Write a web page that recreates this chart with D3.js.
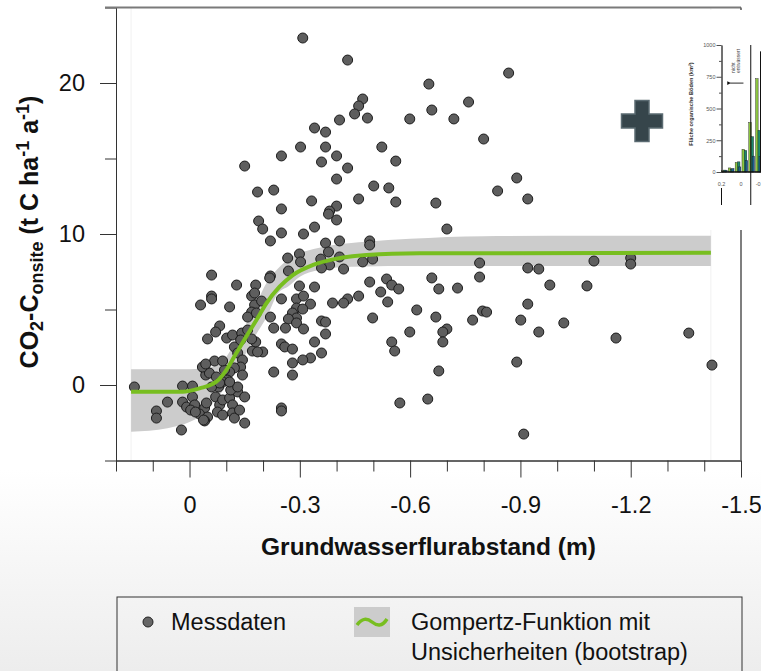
<!DOCTYPE html>
<html>
<head>
<meta charset="utf-8">
<script src="https://cdn.jsdelivr.net/npm/d3@7"></script>
<style>
  body { margin: 0; background: #fff; }
  svg { display: block; font-family: "Liberation Sans", Arial, sans-serif; }
</style>
</head>
<body>
<div id="chart"></div>
<script>
// measured points: groundwater level (m) and CO2-C onsite (t C / ha / a)
let gwLevel = [
  -0.308, -0.430, -0.471, -0.460, -0.449, -0.484, -0.408, -0.340, -0.370, -0.302,
  -0.370, -0.523, -0.250, -0.400, -0.150, -0.359, -0.430, -0.400, -0.501, -0.185,
  -0.229, -0.332, -0.460, -0.250, -0.400, -0.381, -0.378, -0.400, -0.188, -0.199,
  -0.868, -0.651, -0.759, -0.659, -0.599, -0.719, -0.800, -0.561, -0.890, -0.542,
  -0.838, -0.561, -0.670, -0.920, -0.700, -0.250, -0.310, -0.340, -0.220, -0.370,
  -0.408, -0.490, -0.490, -0.299, -0.267, -0.378, -0.408, -0.302, -0.357, -0.381,
  -0.359, -0.419, -0.471, -0.498, -0.269, -0.220, -0.218, -0.060, -0.128, -0.180,
  -0.299, -0.340, -0.490, -0.536, -0.550, -0.569, -0.520, -0.060, -0.060, -0.169,
  -0.177, -0.250, -0.291, -0.310, -0.430, -0.460, -0.789, -0.789, -0.659, -0.678,
  -0.729, -0.920, -0.950, -1.100, -1.200, -1.200, -0.980, -1.081, -0.329, -0.389,
  -0.419, -0.539, -0.618, -0.030, -0.109, -0.177, -0.169, -0.158, -0.182, -0.196,
  -0.291, -0.280, -0.291, -0.308, -0.269, -0.220, -0.291, -0.261, -0.229, -0.310,
  -0.359, -0.370, -0.370, -0.498, -0.599, -0.550, -0.558, -0.340, -0.250, -0.259,
  -0.280, -0.359, -0.329, -0.308, -0.280, -0.280, -0.229, -0.250, -0.250, -0.572,
  -0.199, -0.171, -0.180, -0.082, -0.071, -0.049, -0.101, -0.117, -0.142, -0.158,
  -0.169, -0.122, -0.139, -0.185, -0.131, -0.144, -0.139, -0.144, -0.122, -0.109,
  -0.095, -0.068, -0.090, -0.041, -0.044, -0.054, -0.073, -0.103, -0.090, -0.079,
  0.019, -0.008, 0.150, 0.060, 0.019, 0.008, -0.008, -0.014, -0.041, -0.046,
  -0.071, -0.082, -0.090, -0.109, -0.117, -0.131, -0.150, 0.090, 0.090, -0.003,
  -0.027, -0.049, -0.041, -0.076, -0.090, -0.117, -0.122, -0.136, -0.150, 0.022,
  -0.035, -0.044, -0.060, -0.082, -0.112, -0.131, -0.109, -0.016, -0.038, -0.670,
  -0.797, -0.808, -0.770, -0.901, -1.018, -0.700, -0.689, -0.689, -0.950, -1.160,
  -1.358, -0.890, -0.678, -1.421, -0.648, -0.909, -0.920
];
let co2Flux = [
  22.98, 21.52, 18.94, 18.48, 17.95, 17.68, 17.55, 17.02, 16.75, 15.76,
  15.76, 15.76, 15.17, 15.17, 14.50, 14.77, 14.37, 13.64, 13.18, 12.78,
  12.91, 12.19, 12.32, 11.66, 11.85, 11.52, 11.32, 10.93, 10.86, 10.33,
  20.66, 19.93, 18.74, 18.21, 17.62, 17.62, 16.29, 14.83, 13.71, 13.05,
  12.85, 12.12, 12.05, 12.32, 10.33, 10.07, 10.00, 10.46, 9.54, 9.40,
  9.54, 9.54, 9.27, 8.68, 8.41, 8.81, 8.48, 8.15, 8.34, 7.95,
  7.75, 7.68, 8.15, 8.34, 7.55, 7.22, 7.09, 7.28, 6.62, 6.62,
  6.56, 6.49, 6.82, 7.02, 6.62, 6.36, 6.16, 5.89, 5.70, 5.89,
  6.09, 5.70, 5.70, 5.89, 5.70, 5.89, 8.08, 7.15, 7.09, 6.36,
  6.42, 7.75, 7.68, 8.21, 8.41, 8.01, 6.62, 6.56, 5.36, 5.43,
  5.43, 5.50, 4.97, 5.30, 5.17, 5.30, 4.83, 4.50, 4.77, 5.56,
  5.10, 4.77, 4.44, 5.03, 4.37, 4.50, 4.11, 3.77, 3.77, 3.71,
  4.24, 4.17, 3.38, 4.44, 3.51, 2.85, 2.25, 2.85, 2.72, 2.52,
  2.38, 2.12, 1.79, 1.66, 1.46, 0.66, 0.86, -1.52, -1.72, -1.19,
  2.19, 2.25, 2.85, 3.91, 3.51, 3.05, 3.11, 3.31, 3.44, 3.64,
  3.05, 2.52, 2.98, 2.19, 2.12, 1.66, 1.19, 0.66, 1.13, 0.86,
  0.99, 1.59, 1.59, 1.06, 0.66, 0.79, 0.53, 0.33, 0.20, -0.13,
  -0.07, -0.07, -0.13, -1.13, -1.13, -1.46, -0.79, -1.32, -1.52, -1.19,
  -0.79, -1.32, -0.99, -0.86, -1.32, -0.46, -0.79, -1.72, -2.19, -1.66,
  -1.92, -2.12, -2.38, -1.79, -1.99, -1.85, -2.19, -1.66, -2.52, -2.98,
  1.19, 1.39, -0.13, 0.13, -0.33, -0.13, 0.20, -1.79, -2.32, 4.50,
  4.90, 4.83, 4.30, 4.30, 4.11, 3.71, 3.51, 2.85, 3.51, 3.11,
  3.44, 1.52, 0.93, 1.32, -0.93, -3.25, 5.36
];

// Gompertz fit
let fitX = [0.159, 0.019, -0.027, -0.073, -0.100, -0.127, -0.154, -0.182, -0.209, -0.245, -0.281, -0.336, -0.390, -0.481, -0.626, -1.418];
let fitY = [-0.44, -0.44, -0.22, 0.22, 0.99, 2.10, 3.20, 4.30, 5.41, 6.51, 7.28, 7.95, 8.32, 8.61, 8.72, 8.76];

// bootstrap uncertainty band
let bandX = [0.159, 0.06, 0.0, -0.03, -0.06, -0.09, -0.12, -0.15, -0.18, -0.21, -0.24, -0.27, -0.30, -0.35, -0.40, -0.48, -0.60, -0.80, -1.10, -1.418];
let bandHigh = [1.04, 1.04, 1.05, 1.1, 1.2, 1.55, 2.65, 3.88, 5.3, 6.78, 7.7, 8.35, 8.72, 9.07, 9.3, 9.49, 9.68, 9.85, 9.88, 9.88];
let bandLow = [-3.09, -2.86, -2.45, -2.05, -1.3, -0.4, 0.7, 1.95, 3.3, 4.5, 6.05, 6.55, 7.17, 7.6, 7.78, 7.85, 7.88, 7.88, 7.88, 7.88];

let xMajorTicks = [0, -0.3, -0.6, -0.9, -1.2, -1.5];
let xMinorTicks = [0.2, 0.1, -0.1, -0.2, -0.4, -0.5, -0.7, -0.8, -1.0, -1.1, -1.3, -1.4];
let yMajorTicks = [0, 10, 20];
let yMinorTicks = [-5, 5, 15, 25];

// inset histogram (area of organic soils per groundwater class)
let insetBins = [0.2, 0.13, 0.06, -0.01, -0.08, -0.15];
let insetGreen = [10, 32, 75, 178, 390, 735];
let insetTeal = [15, 22, 80, 170, 278, 328];
let insetBlue = [12, 28, 40, 90, 125, 120];
let insetYTicks = [0, 250, 500, 750, 1000];
let insetYMinor = [125, 375, 625, 875];
let insetXTicks = [0.2, 0, -0.2];

let svgWidth = 761;
let svgHeight = 671;
let fontSize = 23.5;

let svg = d3.select("#chart")
  .append("svg")
  .attr("width", svgWidth)
  .attr("height", svgHeight);

// soft grey fade at the bottom
let grad = svg.append("defs").append("linearGradient")
  .attr("id", "bg").attr("x1", 0).attr("y1", 0).attr("x2", 0).attr("y2", 1);
grad.append("stop").attr("offset", 0.7).attr("stop-color", "#ffffff");
grad.append("stop").attr("offset", 1).attr("stop-color", "#ededed");
svg.append("rect").attr("width", svgWidth).attr("height", svgHeight).attr("fill", "url(#bg)");

let x = d3.scaleLinear().domain([0.2, -1.5]).range([116, 741]);
let y = d3.scaleLinear().domain([-5, 25]).range([460.5, 7.5]);

// faint guides at the ends of the fit
svg.selectAll(".guide")
  .data([bandX[0], bandX[bandX.length - 1]])
  .enter().append("line")
  .attr("x1", d => x(d)).attr("x2", d => x(d))
  .attr("y1", y(25)).attr("y2", y(-5))
  .attr("stroke", "#f1f1f1");

// uncertainty band
let band = d3.area()
  .x((d, i) => x(bandX[i]))
  .y0((d, i) => y(bandLow[i]))
  .y1((d, i) => y(bandHigh[i]))
  .curve(d3.curveMonotoneX);
svg.append("path")
  .datum(bandX)
  .attr("d", band)
  .attr("fill", "#cccccc");

// points
let points = gwLevel.map((g, i) => ({ gw: g, co2: co2Flux[i] }));
svg.selectAll(".dot")
  .data(points)
  .enter()
  .append("circle")
  .attr("class", "dot")
  .attr("cx", d => x(d.gw))
  .attr("cy", d => y(d.co2))
  .attr("r", 5)
  .attr("fill", "#5e5e5e")
  .attr("stroke", "#1c1c1c")
  .attr("stroke-width", 1);

// gompertz curve
let fitLine = d3.line()
  .x((d, i) => x(fitX[i]))
  .y((d, i) => y(fitY[i]))
  .curve(d3.curveMonotoneX);
svg.append("path")
  .datum(fitX)
  .attr("d", fitLine)
  .attr("fill", "none")
  .attr("stroke", "#78be20")
  .attr("stroke-width", 4);

// axes
let yMinor = svg.append("g")
  .attr("transform", `translate(${x(0.2)},0)`)
  .call(d3.axisLeft(y).tickValues(yMinorTicks).tickSize(11).tickSizeOuter(0).tickFormat(""));
let yMajor = svg.append("g")
  .attr("transform", `translate(${x(0.2)},0)`)
  .call(d3.axisLeft(y).tickValues(yMajorTicks).tickSize(16).tickSizeOuter(0).tickPadding(15));
let xMinor = svg.append("g")
  .attr("transform", `translate(0,${y(-5)})`)
  .call(d3.axisBottom(x).tickValues(xMinorTicks).tickSize(11).tickSizeOuter(0).tickFormat(""));
let xMajor = svg.append("g")
  .attr("transform", `translate(0,${y(-5)})`)
  .call(d3.axisBottom(x).tickValues(xMajorTicks).tickSize(17).tickSizeOuter(0).tickPadding(19)
    .tickFormat(d => String(d)));

[yMinor, yMajor, xMinor, xMajor].forEach(g => {
  g.selectAll("line").attr("stroke", "#333");
  g.select(".domain").attr("stroke", "#333");
  g.selectAll("text")
    .attr("font-size", fontSize)
    .attr("fill", "#111")
    .attr("font-family", "Liberation Sans, Arial, sans-serif");
});

// frame top and right
svg.append("line")
  .attr("x1", x(0.2) - 11).attr("x2", x(-1.5))
  .attr("y1", y(25)).attr("y2", y(25))
  .attr("stroke", "#7a7a7a").attr("stroke-width", 2);
svg.append("line")
  .attr("x1", x(-1.5)).attr("x2", x(-1.5))
  .attr("y1", y(25)).attr("y2", y(-5))
  .attr("stroke", "#555").attr("stroke-width", 1.5);

// axis titles
svg.append("text")
  .attr("x", (x(0.2) + x(-1.5)) / 2)
  .attr("y", 555)
  .attr("text-anchor", "middle")
  .attr("font-size", 24.5)
  .attr("font-weight", "bold")
  .attr("fill", "#111")
  .text("Grundwasserflurabstand (m)");

let yTitle = svg.append("text")
  .attr("transform", "translate(38,232) rotate(-90)")
  .attr("text-anchor", "middle")
  .attr("font-size", 25)
  .attr("font-weight", "bold")
  .attr("fill", "#111");
yTitle.append("tspan").text("CO");
yTitle.append("tspan").attr("font-size", 18).attr("dy", 5).text("2");
yTitle.append("tspan").attr("dy", -5).text("-C");
yTitle.append("tspan").attr("font-size", 18).attr("dy", 5).text("onsite");
yTitle.append("tspan").attr("dy", -5).text(" (t C ha");
yTitle.append("tspan").attr("font-size", 18).attr("dy", -9).text("-1");
yTitle.append("tspan").attr("dy", 9).text(" a");
yTitle.append("tspan").attr("font-size", 18).attr("dy", -9).text("-1");
yTitle.append("tspan").attr("dy", 9).text(")");

// ============= inset =================
svg.append("rect")
  .attr("x", 680).attr("y", 10).attr("width", 81).attr("height", 220)
  .attr("fill", "#fff");

// plus sign
let cx = 642, cy = 121, arm = 20.5, th = 7;
svg.append("path")
  .attr("d", `M${cx - th},${cy - arm}H${cx + th}V${cy - th}H${cx + arm}V${cy + th}H${cx + th}V${cy + arm}H${cx - th}V${cy + th}H${cx - arm}V${cy - th}H${cx - th}Z`)
  .attr("fill", "#36454b")
  .attr("stroke", "#5b6b72")
  .attr("stroke-width", 1.5);

let ix = d3.scaleLinear().domain([0.2, -0.2]).range([721.5, 760.5]);
let iy = d3.scaleLinear().domain([0, 1000]).range([172, 45]);
let binW = 2.5;

let inset = svg.append("g");
inset.selectAll(".g").data(insetBins).enter().append("rect")
  .attr("x", d => ix(d)).attr("y", (d, i) => iy(insetGreen[i]))
  .attr("width", binW).attr("height", (d, i) => iy(0) - iy(insetGreen[i]))
  .attr("fill", "#8dc63f").attr("stroke", "#1a1a1a").attr("stroke-width", 0.4);
inset.selectAll(".t").data(insetBins).enter().append("rect")
  .attr("x", d => ix(d) + 2.3).attr("y", (d, i) => iy(insetTeal[i]))
  .attr("width", binW).attr("height", (d, i) => iy(0) - iy(insetTeal[i]))
  .attr("fill", "#1d8a6c").attr("stroke", "#1a1a1a").attr("stroke-width", 0.4);
inset.selectAll(".b").data(insetBins).enter().append("rect")
  .attr("x", d => ix(d) + 3.4).attr("y", (d, i) => iy(insetBlue[i]))
  .attr("width", 2.3).attr("height", (d, i) => iy(0) - iy(insetBlue[i]))
  .attr("fill", "#1b5f8e").attr("stroke", "#1a1a1a").attr("stroke-width", 0.4);

inset.append("g")
  .attr("transform", `translate(${ix(0.2)},0)`)
  .call(d3.axisLeft(iy).tickValues(insetYTicks).tickSize(5).tickSizeOuter(0).tickPadding(1)
    .tickFormat(d3.format("d")));
inset.append("g")
  .attr("transform", `translate(${ix(0.2)},0)`)
  .call(d3.axisLeft(iy).tickValues(insetYMinor).tickSize(2.5).tickSizeOuter(0).tickFormat(""));
inset.selectAll("g text").attr("font-size", 5.5).attr("fill", "#555");
inset.selectAll("g line, g .domain").attr("stroke", "#222").attr("stroke-width", 0.8);

// x labels of inset (the last one runs off the page, as in the original)
inset.selectAll(".ixl").data(insetXTicks).enter().append("text")
  .attr("x", d => ix(d)).attr("y", 186)
  .attr("text-anchor", "middle")
  .attr("font-size", 5.5).attr("fill", "#555")
  .text(d => String(d));

// baseline and vertical markers
inset.append("line")
  .attr("x1", ix(0.2)).attr("x2", 761).attr("y1", iy(0)).attr("y2", iy(0))
  .attr("stroke", "#111").attr("stroke-width", 1.3);
inset.append("line")
  .attr("x1", ix(0.2)).attr("x2", ix(0.2)).attr("y1", 188).attr("y2", 205)
  .attr("stroke", "#111").attr("stroke-width", 1);
inset.append("line")
  .attr("x1", ix(-0.1)).attr("x2", ix(-0.1)).attr("y1", iy(1000)).attr("y2", 205)
  .attr("stroke", "#111").attr("stroke-width", 1);
inset.append("line")
  .attr("x1", ix(-0.2)).attr("x2", ix(-0.2)).attr("y1", iy(950)).attr("y2", iy(0))
  .attr("stroke", "#111").attr("stroke-width", 1);

// arrow "nicht entwässert"
svg.append("defs").append("marker")
  .attr("id", "arr").attr("viewBox", "0 0 6 6").attr("refX", 1).attr("refY", 3)
  .attr("markerWidth", 4).attr("markerHeight", 4).attr("orient", "auto")
  .append("path").attr("d", "M6,0L0,3L6,6Z").attr("fill", "#111");
inset.append("line")
  .attr("x1", ix(-0.025)).attr("x2", ix(0.11))
  .attr("y1", iy(700)).attr("y2", iy(700))
  .attr("stroke", "#111").attr("stroke-width", 0.9)
  .attr("marker-end", "url(#arr)");
inset.append("text")
  .attr("transform", `translate(735,73) rotate(-90)`)
  .attr("font-size", 5).attr("fill", "#444")
  .text("nicht");
inset.append("text")
  .attr("transform", `translate(740,73) rotate(-90)`)
  .attr("font-size", 5).attr("fill", "#444")
  .text("entwässert");
inset.append("text")
  .attr("transform", `translate(693,104) rotate(-90)`)
  .attr("text-anchor", "middle")
  .attr("font-size", 5.6).attr("font-weight", "bold").attr("fill", "#333")
  .text("Fläche organische Böden (km²)");

// ============= legend =================
let legend = svg.append("g");
legend.append("rect")
  .attr("x", 117).attr("y", 597).attr("width", 625).attr("height", 120)
  .attr("fill", "none").attr("stroke", "#333").attr("stroke-width", 1);
legend.append("circle")
  .attr("cx", 148).attr("cy", 622).attr("r", 5)
  .attr("fill", "#666").attr("stroke", "#222");
legend.append("text")
  .attr("x", 171).attr("y", 630)
  .attr("font-size", 23.5).attr("fill", "#111")
  .text("Messdaten");
legend.append("rect")
  .attr("x", 354).attr("y", 607).attr("width", 36).attr("height", 30)
  .attr("fill", "#cccccc");
legend.append("path")
  .attr("d", "M357,625 C362,618 367,618 372,622 S382,627 387,619")
  .attr("fill", "none").attr("stroke", "#78be20").attr("stroke-width", 3.5);
legend.append("text")
  .attr("x", 411).attr("y", 630)
  .attr("font-size", 23.5).attr("fill", "#111")
  .text("Gompertz-Funktion mit");
legend.append("text")
  .attr("x", 411).attr("y", 660)
  .attr("font-size", 23.5).attr("fill", "#111")
  .text("Unsicherheiten (bootstrap)");
</script>
</body>
</html>
